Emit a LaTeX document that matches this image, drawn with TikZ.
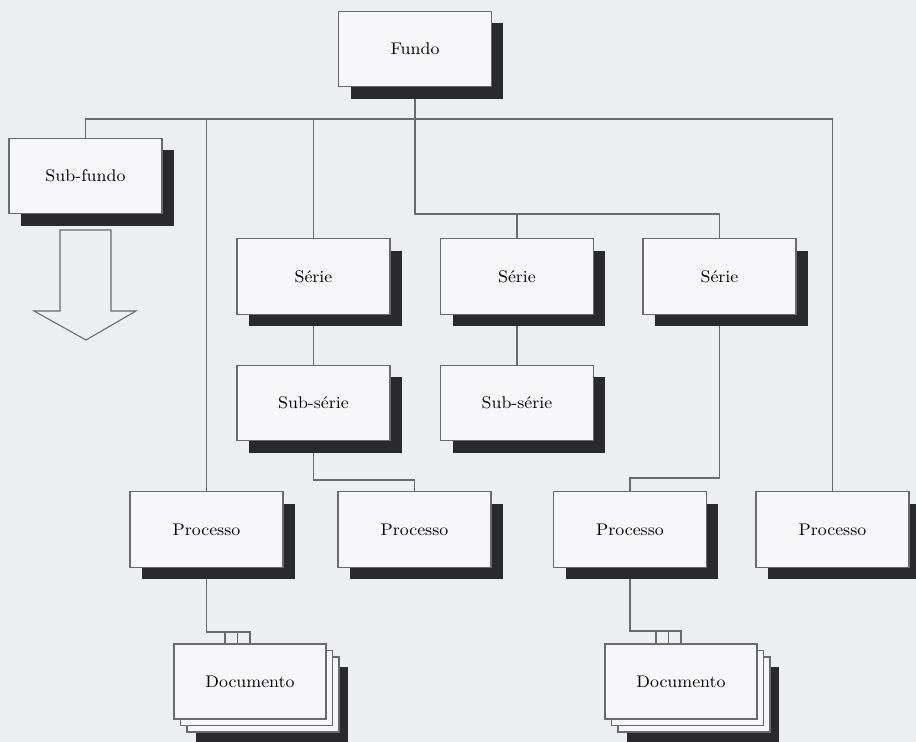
\documentclass[tikz,border=0pt]{standalone}
\usepackage{graphicx}
\usetikzlibrary{shadows,calc,backgrounds}
\definecolor{bgc}{RGB}{236,238,241}
\definecolor{boxc}{RGB}{247,247,249}
\definecolor{linec}{RGB}{105,105,110}
\definecolor{shadc}{RGB}{42,42,44}
\newcommand{\lbl}[1]{\scalebox{1.06}[1]{#1}}
\begin{document}
\begin{tikzpicture}[x=0.02cm,y=-0.02cm,
  unit/.style={draw=linec, fill=boxc, line width=0.6pt,
    minimum width=3.06cm, minimum height=1.51cm, inner sep=0pt, outer sep=0pt,
    font=\fontsize{9.6}{11}\selectfont,
    drop shadow={shadow xshift=0.24cm, shadow yshift=-0.24cm, fill=shadc, opacity=1}},
  docunit/.style={draw=linec, fill=boxc, line width=0.6pt,
    minimum width=3.04cm, minimum height=1.5cm, inner sep=0pt, outer sep=0pt,
    font=\fontsize{9.6}{11}\selectfont,
    drop shadow={shadow xshift=0.44cm, shadow yshift=-0.46cm, fill=shadc, opacity=1},
    copy shadow={shadow xshift=0.26cm, shadow yshift=-0.26cm, draw=linec, fill=boxc, opacity=1},
    copy shadow={shadow xshift=0.13cm, shadow yshift=-0.13cm, draw=linec, fill=boxc, opacity=1}},
  link/.style={draw=linec, line width=0.6pt}]
\useasboundingbox (0,0) rectangle (916,742);
\begin{pgfonlayer}{background}
  \fill[bgc] (0,0) rectangle (916,742);
\end{pgfonlayer}

% nodes
\node[unit] (fundo) at (415,49) {\lbl{Fundo}};
\node[unit] (subfundo) at (85.5,176) {\lbl{Sub-fundo}};
\node[unit] (serie1) at (313.5,276.5) {\lbl{Série}};
\node[unit] (serie2) at (517,276.5) {\lbl{Série}};
\node[unit] (serie3) at (719.5,276.5) {\lbl{Série}};
\node[unit] (subserie1) at (313.5,403) {\lbl{Sub-série}};
\node[unit] (subserie2) at (517,403) {\lbl{Sub-série}};
\node[unit] (proc1) at (206.5,529.5) {\lbl{Processo}};
\node[unit] (proc2) at (414.5,529.5) {\lbl{Processo}};
\node[unit] (proc3) at (630,529.5) {\lbl{Processo}};
\node[unit] (proc4) at (832.5,529.5) {\lbl{Processo}};
\node[docunit] (doc1) at (250,681.5) {\lbl{Documento}};
\node[docunit] (doc2) at (681,681.5) {\lbl{Documento}};

% hollow arrow below Sub-fundo
\draw[draw=linec, fill=bgc, line width=0.6pt]
  (60,230) -- (111,230) -- (111,311) -- (136,311) -- (86,340) -- (34,311) -- (60,311) -- cycle;

% helper coordinates
\coordinate (barA) at (0,119);
\coordinate (barB) at (0,214);
\coordinate (barC) at (0,480);
\coordinate (barD) at (0,478);
\coordinate (combA) at (0,632);
\coordinate (combB) at (0,631);
\coordinate (d1a) at ($(doc1.north)+(-12.5,0)$);
\coordinate (d1b) at ($(doc1.north)+(-25,0)$);
\coordinate (d2a) at ($(doc2.north)+(-12.5,0)$);
\coordinate (d2b) at ($(doc2.north)+(-25,0)$);

\begin{pgfonlayer}{background}
  \draw[link] (subfundo.north) -- (subfundo.north |- barA) -- (proc4.north |- barA) -- (proc4.north);
  \draw[link] (proc1.north) -- (proc1.north |- barA);
  \draw[link] (serie1.north) -- (serie1.north |- barA);
  \draw[link] (fundo.south) -- (fundo.south |- barB) -- (serie3.north |- barB) -- (serie3.north);
  \draw[link] (serie2.north) -- (serie2.north |- barB);
  \draw[link] (serie1.south) -- (subserie1.north);
  \draw[link] (serie2.south) -- (subserie2.north);
  \draw[link] (subserie1.south) -- (subserie1.south |- barC) -- (proc2.north |- barC) -- (proc2.north);
  \draw[link] (serie3.south) -- (serie3.south |- barD) -- (proc3.north |- barD) -- (proc3.north);
  \draw[link] (proc1.south) -- (proc1.south |- combA) -- (doc1.north |- combA) -- (doc1.north);
  \draw[link] (d1a) -- (d1a |- combA);
  \draw[link] (d1b) -- (d1b |- combA);
  \draw[link] (proc3.south) -- (proc3.south |- combB) -- (doc2.north |- combB) -- (doc2.north);
  \draw[link] (d2a) -- (d2a |- combB);
  \draw[link] (d2b) -- (d2b |- combB);
\end{pgfonlayer}
\end{tikzpicture}
\end{document}
